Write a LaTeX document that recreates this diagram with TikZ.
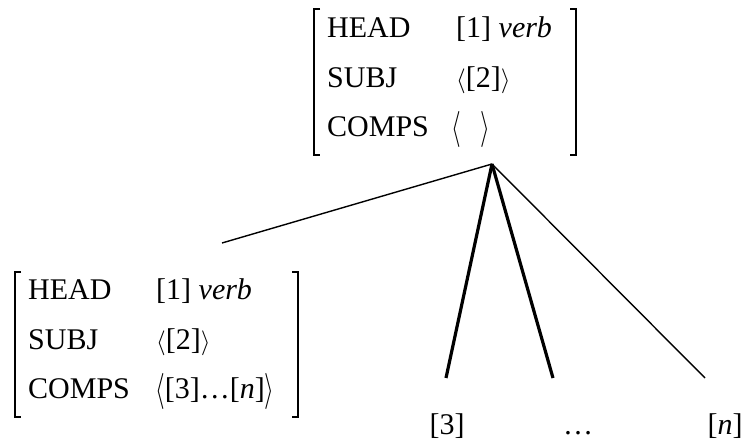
\documentclass[tikz,border=0pt]{standalone}
\usepackage{fontspec}
\usepackage{graphicx}
\setmainfont{Liberation Serif}
\newcommand{\tallL}{\raisebox{-2pt}{\scalebox{1}[1.45]{$\langle$}}}
\newcommand{\tallR}{\raisebox{-2pt}{\scalebox{1}[1.45]{$\rangle$}}}
\begin{document}
\begin{tikzpicture}[x=1pt,y=-1pt,
  txt/.style={anchor=base west,inner sep=0pt,font=\fontsize{30}{36}\selectfont},
  brk/.style={line width=1.4pt},
  thin/.style={line width=1.4pt},
  thick/.style={line width=3.2pt}]
\useasboundingbox (0,0) rectangle (742,443);
% top AVM
\draw[brk] (320,9) -- (314,9) -- (314,155) -- (320,155);
\draw[brk] (570,9) -- (576,9) -- (576,155) -- (570,155);
\node[txt] (th) at (327,38) {HEAD};
\node[txt] (ths) at (327,88) {SUBJ};
\node[txt] (thc) at (327,137) {COMPS};
\node[txt] (tv1) at (456,38) {[1] \textit{verb}};
\node[txt] (tv2) at (456,88) {$\langle$[2]$\rangle$};
\node[txt] (tv3) at (451,137) {\tallL\hspace{20pt}\tallR};
% bottom AVM
\draw[brk] (21,272) -- (15,272) -- (15,417) -- (21,417);
\draw[brk] (292,272) -- (298,272) -- (298,417) -- (292,417);
\node[txt] (bh) at (28,300) {HEAD};
\node[txt] (bs) at (28,350) {SUBJ};
\node[txt] (bc) at (28,399) {COMPS};
\node[txt] (bv1) at (156,300) {[1] \textit{verb}};
\node[txt] (bv2) at (156,350) {$\langle$[2]$\rangle$};
\node[txt] (bv3) at (155,399) {\tallL[3]\dots[\textit{n}]\tallR};
% bottom labels
\node[txt,anchor=base] (c3) at (447,435) {[3]};
\node[txt,anchor=base] (cd) at (578,435) {\dots};
\node[txt,anchor=base] (cn) at (725,435) {[\textit{n}]};
% connectors
\coordinate (apex) at (492,164);
\coordinate (e1) at (222,243);
\coordinate (e2) at (446,378);
\coordinate (e3) at (553,378);
\coordinate (e4) at (705,378);
\draw[thin] (apex) -- (e1);
\draw[thick] (apex) -- (e2);
\draw[thick] (apex) -- (e3);
\draw[thin] (apex) -- (e4);
\end{tikzpicture}
\end{document}
